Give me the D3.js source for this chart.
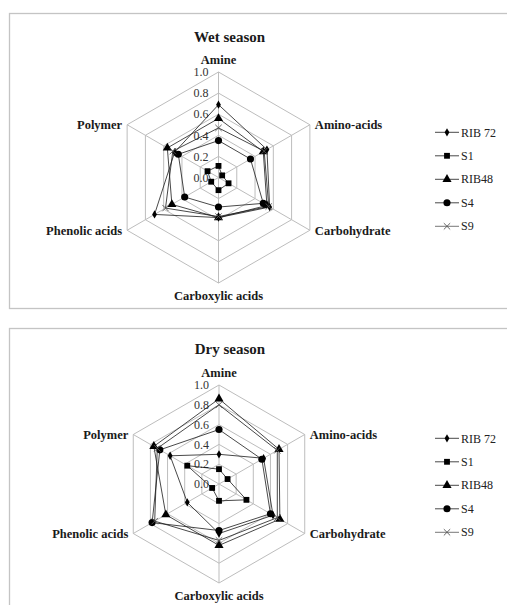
<!DOCTYPE html>
<html>
<head>
<meta charset="utf-8">
<script src="https://cdn.jsdelivr.net/npm/d3@7"></script>
<style>
	body { margin: 0; background: #fff; }
	svg { display: block; }
	svg text { font-family: 'Liberation Serif', 'Times New Roman', 'DejaVu Serif', serif; }
</style>
</head>
<body>
<div class="radar"></div>
<script>
var axes = ['Amine', 'Amino-acids', 'Carbohydrate', 'Carboxylic acids', 'Phenolic acids', 'Polymer'];
var seriesNames = ['RIB 72', 'S1', 'RIB48', 'S4', 'S9'];
var tickValues = [0, 0.2, 0.4, 0.6, 0.8, 1.0];

// Wet season values, one per axis (clockwise from Amine)
var wetRib72 = [0.69, 0.53, 0.56, 0.38, 0.70, 0.48];
var wetS1 = [0.11, 0.04, 0.11, 0.12, 0.08, 0.12];
var wetRib48 = [0.56, 0.49, 0.53, 0.38, 0.51, 0.56];
var wetS4 = [0.35, 0.35, 0.49, 0.28, 0.37, 0.44];
var wetS9 = [0.47, 0.50, 0.55, 0.37, 0.58, 0.50];

// Dry season values
var dryRib72 = [0.30, 0.52, 0.63, 0.50, 0.37, 0.57];
var dryS1 = [0.15, 0.10, 0.32, 0.17, 0.08, 0.37];
var dryRib48 = [0.86, 0.70, 0.71, 0.62, 0.62, 0.76];
var dryS4 = [0.55, 0.50, 0.60, 0.47, 0.78, 0.69];
var dryS9 = [0.80, 0.68, 0.68, 0.57, 0.75, 0.72];

var gridColor = '#bdbdbd',
	frameColor = '#c4c4c4',
	lineColor = '#1a1a1a',
	textColor = '#1a1a1a';

var symbols = [d3.symbolDiamond, d3.symbolSquare, d3.symbolTriangle, d3.symbolCircle, d3.symbolX];
var symbolSizes = [20, 34, 36, 40, 28];

var panels = [
	{title: 'Wet season', cx: 218.5, cy: 177.5, r: 105.5, titleY: 37,
		frame: [9, 13, 600, 295], series: [wetRib72, wetS1, wetRib48, wetS4, wetS9],
		legendY: 132.3},
	{title: 'Dry season', cx: 219, cy: 484, r: 99, titleY: 349,
		frame: [9, 328, 600, 400], series: [dryRib72, dryS1, dryRib48, dryS4, dryS9],
		legendY: 438.3}
];

var svg = d3.select('.radar').append('svg')
	.attr('width', 507)
	.attr('height', 605)
	.attr('fill', textColor);

var angle = d3.scaleLinear().domain([0, axes.length]).range([0, 2 * Math.PI]);

panels.forEach(function(p) {
	var rScale = d3.scaleLinear().domain([0, 1]).range([0, p.r]);

	// Frame round each chart
	svg.append('rect')
		.attr('x', p.frame[0] + 0.5)
		.attr('y', p.frame[1] + 0.5)
		.attr('width', p.frame[2])
		.attr('height', p.frame[3])
		.attr('fill', 'none')
		.attr('stroke', frameColor)
		.attr('stroke-width', 1.3);

	var g = svg.append('g')
		.attr('transform', 'translate(' + p.cx + ',' + p.cy + ')');

	var ring = d3.lineRadial()
		.angle(function(d, i) { return angle(i); })
		.radius(function(d) { return rScale(d); })
		.curve(d3.curveLinearClosed);

	// Hexagonal grid
	tickValues.slice(1).forEach(function(t) {
		g.append('path')
			.attr('d', ring(axes.map(function() { return t; })))
			.attr('fill', 'none')
			.attr('stroke', gridColor)
			.attr('stroke-width', 1);
	});
	axes.forEach(function(a, i) {
		var pt = d3.pointRadial(angle(i), rScale(1));
		g.append('line')
			.attr('x1', 0).attr('y1', 0)
			.attr('x2', pt[0]).attr('y2', pt[1])
			.attr('stroke', gridColor)
			.attr('stroke-width', 1);
	});

	// Tick labels along the Amine spoke
	tickValues.forEach(function(t) {
		g.append('text')
			.attr('x', -10)
			.attr('y', -rScale(t))
			.attr('dy', '0.35em')
			.attr('text-anchor', 'end')
			.attr('font-size', '12px')
			.attr('fill', '#333')
			.text(t.toFixed(1));
	});

	// Category labels
	axes.forEach(function(a, i) {
		var pt = d3.pointRadial(angle(i), rScale(1));
		var anchor = 'middle', dx = 0, dy = 0;
		if (pt[0] > 1) { anchor = 'start'; dx = 5; }
		else if (pt[0] < -1) { anchor = 'end'; dx = -5; }
		else if (pt[1] < 0) { dy = -12; }
		else { dy = 13; }
		g.append('text')
			.attr('x', pt[0] + dx)
			.attr('y', pt[1] + dy)
			.attr('dy', '0.35em')
			.attr('text-anchor', anchor)
			.attr('font-size', '12.5px')
			.attr('font-weight', 'bold')
			.text(a);
	});

	// Title
	svg.append('text')
		.attr('x', p.cx + 11)
		.attr('y', p.titleY)
		.attr('dy', '0.35em')
		.attr('text-anchor', 'middle')
		.attr('font-size', '15px')
		.attr('font-weight', 'bold')
		.text(p.title);

	// Series lines and markers
	p.series.forEach(function(values, s) {
		g.append('path')
			.attr('d', ring(values))
			.attr('fill', 'none')
			.attr('stroke', lineColor)
			.attr('stroke-width', 0.8);
		values.forEach(function(v, i) {
			var pt = d3.pointRadial(angle(i), rScale(v));
			var isX = s === 4;
			g.append('path')
				.attr('transform', 'translate(' + pt[0] + ',' + pt[1] + ')')
				.attr('d', d3.symbol().type(symbols[s]).size(symbolSizes[s])())
				.attr('fill', isX ? 'none' : '#000')
				.attr('stroke', isX ? '#555' : 'none')
				.attr('stroke-width', 0.9);
		});
	});

	// Legend
	var legend = svg.append('g')
		.attr('transform', 'translate(435,' + p.legendY + ')');
	seriesNames.forEach(function(name, s) {
		var y = s * 23.5;
		var isX = s === 4;
		legend.append('line')
			.attr('x1', 0).attr('x2', 24)
			.attr('y1', y).attr('y2', y)
			.attr('stroke', isX ? '#555' : lineColor)
			.attr('stroke-width', 0.8);
		legend.append('path')
			.attr('transform', 'translate(12,' + y + ')')
			.attr('d', d3.symbol().type(symbols[s]).size(symbolSizes[s])())
			.attr('fill', isX ? 'none' : '#000')
			.attr('stroke', isX ? '#555' : 'none')
			.attr('stroke-width', 0.9);
		legend.append('text')
			.attr('x', 26)
			.attr('y', y)
			.attr('dy', '0.35em')
			.attr('font-size', '12px')
			.attr('fill', '#222')
			.text(name);
	});
});
</script>
</body>
</html>
